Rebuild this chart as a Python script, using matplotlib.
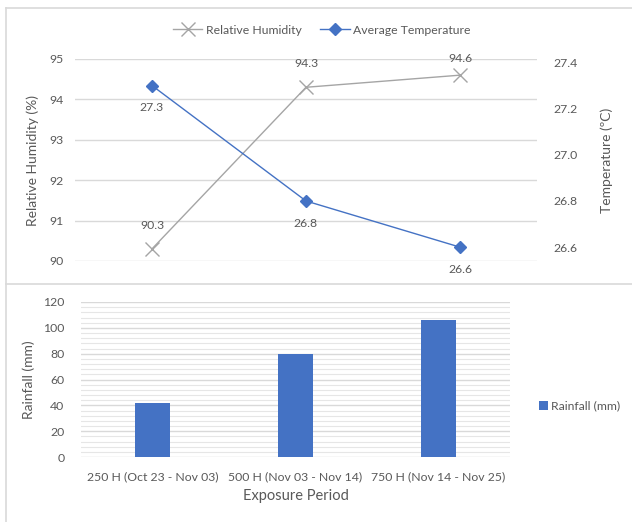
import matplotlib
matplotlib.use("Agg")
import matplotlib.pyplot as plt
from matplotlib.lines import Line2D
from matplotlib.ticker import MultipleLocator
import numpy as np

plt.rcParams['font.family'] = ['Lato', 'DejaVu Sans']

periods = ["250 H (Oct 23 - Nov 03)", "500 H (Nov 03 - Nov 14)", "750 H (Nov 14 - Nov 25)"]
humidity = [90.3, 94.3, 94.6]
temperature = [27.3, 26.8, 26.6]
rainfall = [42, 79.5, 106]
rh_ticks = [90, 91, 92, 93, 94, 95]
temp_ticks = [26.6, 26.8, 27.0, 27.2, 27.4]
rain_ticks = [0, 20, 40, 60, 80, 100, 120]

W, H = 632, 522
fig = plt.figure(figsize=(W / 100, H / 100), dpi=100)

TXT = '#595959'
GRID = '#d9d9d9'
GRAY = '#a5a5a5'
BLUE = '#4472c4'
FS = 8.8

def fx(px):
    return px / W

def fy(py):
    return 1 - py / H

# frame lines
for seg in [((6, 632), (8, 8)), ((6, 6), (8, 522)), ((6, 632), (284, 284))]:
    fig.add_artist(Line2D([fx(seg[0][0]), fx(seg[0][1])], [fy(seg[1][0]), fy(seg[1][1])],
                          color=GRID, lw=1.2, transform=fig.transFigure))

# ---------- top chart ----------
ax = fig.add_axes([fx(75), fy(261), fx(537) - fx(75), fy(59) - fy(261)])
x = np.arange(len(periods))
ax.set_xlim(-0.5, len(periods) - 0.5)
ax.set_ylim(90, 95)
ax.set_yticks(rh_ticks)
ax.grid(axis='y', color=GRID, lw=1)
ax.set_axisbelow(True)
for s in ax.spines.values():
    s.set_visible(False)
ax.set_xticks([])
ax.tick_params(axis='y', length=0, colors=TXT, labelsize=FS, pad=8)
ax.set_ylabel("Relative Humidity (%)", color=TXT, fontsize=10, labelpad=8)

ax2 = ax.twinx()
ax2.set_ylim(26.54, 27.415)
ax2.set_yticks(temp_ticks)
ax2.set_yticklabels([f"{t:.1f}" for t in temp_ticks])
for s in ax2.spines.values():
    s.set_visible(False)
ax2.tick_params(axis='y', length=0, colors=TXT, labelsize=FS, pad=12)
ax2.set_ylabel("Temperature (ºC)", color=TXT, fontsize=10, labelpad=16)

l1, = ax.plot(x, humidity, color=GRAY, lw=1, marker='x', ms=10, mew=1, label="Relative Humidity", zorder=3)
l2, = ax2.plot(x, temperature, color=BLUE, lw=1, marker='D', ms=6.5, label="Average Temperature", zorder=3)

rh_off = [17, 17, 12]
for xi, v, o in zip(x, humidity, rh_off):
    ax.annotate(f"{v:.1f}", (xi, v), xytext=(0, o), textcoords='offset points',
                ha='center', va='center', color=TXT, fontsize=FS)
for xi, v in zip(x, temperature):
    ax2.annotate(f"{v:.1f}", (xi, v), xytext=(0, -16), textcoords='offset points',
                 ha='center', va='center', color=TXT, fontsize=FS)

fig.legend(handles=[l1, l2], loc='center', bbox_to_anchor=(fx(322), fy(30)), ncol=2,
           frameon=False, fontsize=FS, labelcolor=TXT, handlelength=2.4, columnspacing=1.5,
           handletextpad=0.3)

# ---------- bottom chart ----------
bx = fig.add_axes([fx(81), fy(457), fx(510) - fx(81), fy(302) - fy(457)])
bars = bx.bar(x, rainfall, width=0.245, color=BLUE, label="Rainfall (mm)", zorder=3)
bx.set_xlim(-0.5, len(periods) - 0.5)
bx.set_ylim(0, 120)
bx.set_yticks(rain_ticks)
bx.yaxis.set_minor_locator(MultipleLocator(4))
bx.grid(axis='y', which='major', color=GRID, lw=1)
bx.grid(axis='y', which='minor', color='#e6e6e6', lw=0.8)
bx.set_axisbelow(True)
for s in bx.spines.values():
    s.set_visible(False)
bx.set_xticks(x)
bx.set_xticklabels(periods)
bx.tick_params(axis='both', which='both', length=0, colors=TXT, labelsize=FS)
bx.tick_params(axis='y', pad=12)
bx.tick_params(axis='x', pad=10)
bx.set_ylabel("Rainfall (mm)", color=TXT, fontsize=10, labelpad=6)
bx.set_xlabel("Exposure Period", color=TXT, fontsize=10.5, labelpad=5)

fig.legend(handles=[bars], loc='center left', bbox_to_anchor=(fx(528), fy(406)),
           frameon=False, fontsize=FS, labelcolor=TXT, handlelength=0.7, handleheight=0.7,
           handletextpad=0.3)

fig.savefig("out.png", dpi=100)
